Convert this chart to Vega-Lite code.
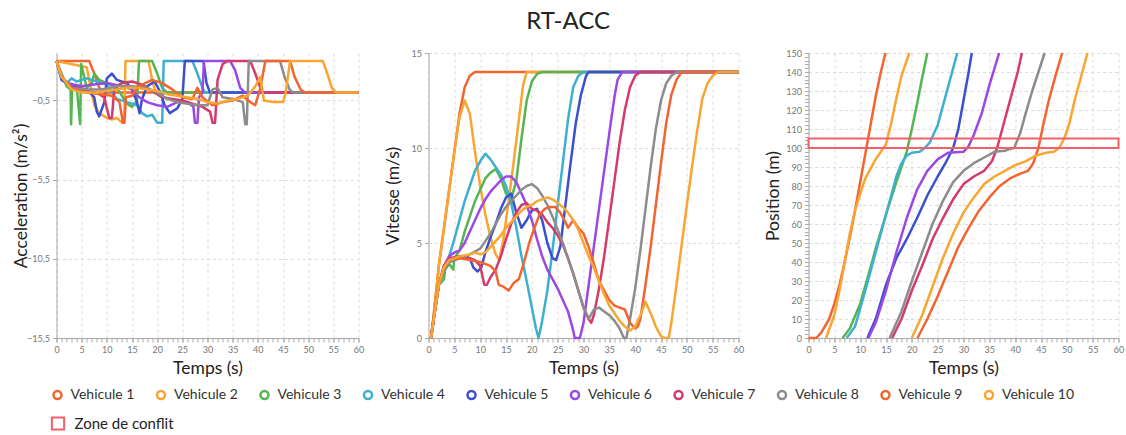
{
"$schema": "https://vega.github.io/schema/vega-lite/v6.json",
"padding": {"left": 12.5, "top": 10, "right": 4, "bottom": 0},
"title": {"text": "RT-ACC", "fontSize": 24, "font": "Lato", "fontWeight": "normal", "color": "#222", "anchor": "middle", "offset": 15},
"spacing": 70,
"bounds": "flush",
"datasets": {
"ax": [{"t": 0, "y": 0}],
"zone": [{"z": "Zone de conflit", "x1": 0, "x2": 60, "y1": 100, "y2": 105}],
"acc": [
{"v":"1","t":0,"y":2},{"v":"1","t":6.5,"y":2},{"v":"1","t":7.5,"y":1.2},{"v":"1","t":8.5,"y":0.3},{"v":"1","t":9.5,"y":0},{"v":"1","t":60,"y":0},
{"v":"2","t":0,"y":2},{"v":"2","t":6,"y":1.6},{"v":"2","t":6.8,"y":0.3},{"v":"2","t":7.5,"y":-0.8},{"v":"2","t":8.5,"y":-1.3},{"v":"2","t":10,"y":-1.6},{"v":"2","t":11,"y":-1.7},{"v":"2","t":12,"y":-1.6},{"v":"2","t":13,"y":-1.9},{"v":"2","t":13.5,"y":-1.4},{"v":"2","t":13.7,"y":2},{"v":"2","t":18.3,"y":2},{"v":"2","t":19,"y":0.8},{"v":"2","t":19.7,"y":0},{"v":"2","t":60,"y":0},
{"v":"3","t":0,"y":2},{"v":"3","t":1,"y":1.2},{"v":"3","t":2,"y":0.4},{"v":"3","t":2.8,"y":0.2},{"v":"3","t":2.9,"y":-2},{"v":"3","t":3.1,"y":0.2},{"v":"3","t":4,"y":0.4},{"v":"3","t":4.7,"y":-2},{"v":"3","t":4.9,"y":1.8},{"v":"3","t":5.5,"y":1},{"v":"3","t":6,"y":0.3},{"v":"3","t":7,"y":0.6},{"v":"3","t":7.5,"y":1.2},{"v":"3","t":8.5,"y":0.8},{"v":"3","t":10,"y":0.6},{"v":"3","t":12,"y":0.3},{"v":"3","t":13,"y":-0.2},{"v":"3","t":14,"y":-0.7},{"v":"3","t":15,"y":-0.9},{"v":"3","t":16,"y":-0.5},{"v":"3","t":16.4,"y":2},{"v":"3","t":19,"y":2},{"v":"3","t":20,"y":1.2},{"v":"3","t":21,"y":0.3},{"v":"3","t":22,"y":0},{"v":"3","t":60,"y":0},
{"v":"4","t":0,"y":2},{"v":"4","t":1,"y":1},{"v":"4","t":2,"y":0.6},{"v":"4","t":3,"y":0.9},{"v":"4","t":4,"y":0.7},{"v":"4","t":6,"y":0.9},{"v":"4","t":8,"y":0.7},{"v":"4","t":10,"y":0.5},{"v":"4","t":11,"y":0},{"v":"4","t":12,"y":-0.4},{"v":"4","t":14,"y":-0.6},{"v":"4","t":16,"y":-0.8},{"v":"4","t":17,"y":-1.3},{"v":"4","t":18,"y":-1.5},{"v":"4","t":19,"y":-1.4},{"v":"4","t":20,"y":-1.9},{"v":"4","t":21,"y":-1.9},{"v":"4","t":21.3,"y":2},{"v":"4","t":27,"y":2},{"v":"4","t":28,"y":1.2},{"v":"4","t":29,"y":0.3},{"v":"4","t":29.5,"y":0},{"v":"4","t":60,"y":0},
{"v":"5","t":0,"y":2},{"v":"5","t":1,"y":0.8},{"v":"5","t":3,"y":0.4},{"v":"5","t":6,"y":0.2},{"v":"5","t":7.5,"y":-0.3},{"v":"5","t":8,"y":-1.2},{"v":"5","t":8.5,"y":-1.5},{"v":"5","t":9.5,"y":-0.6},{"v":"5","t":10,"y":0.9},{"v":"5","t":11,"y":1.2},{"v":"5","t":12,"y":0.8},{"v":"5","t":14,"y":0.6},{"v":"5","t":15,"y":0.2},{"v":"5","t":16,"y":-0.6},{"v":"5","t":16.5,"y":-1.3},{"v":"5","t":17,"y":-0.4},{"v":"5","t":18,"y":0.4},{"v":"5","t":19.5,"y":0.7},{"v":"5","t":20.5,"y":0.1},{"v":"5","t":21.5,"y":-0.8},{"v":"5","t":22.5,"y":-1.3},{"v":"5","t":24,"y":-1},{"v":"5","t":25,"y":-0.4},{"v":"5","t":25.5,"y":2},{"v":"5","t":29.2,"y":2},{"v":"5","t":29.8,"y":0.6},{"v":"5","t":30.5,"y":0},{"v":"5","t":60,"y":0},
{"v":"6","t":0,"y":2},{"v":"6","t":1,"y":1},{"v":"6","t":2,"y":0.6},{"v":"6","t":5,"y":0.4},{"v":"6","t":7,"y":0.5},{"v":"6","t":10,"y":0.6},{"v":"6","t":13,"y":0.4},{"v":"6","t":15,"y":0.2},{"v":"6","t":16,"y":-0.2},{"v":"6","t":18,"y":-0.6},{"v":"6","t":20,"y":-0.8},{"v":"6","t":22,"y":-0.9},{"v":"6","t":24,"y":-0.6},{"v":"6","t":26,"y":-0.6},{"v":"6","t":27.2,"y":-0.9},{"v":"6","t":27.5,"y":-1.9},{"v":"6","t":28,"y":-1.9},{"v":"6","t":28.3,"y":-0.3},{"v":"6","t":29,"y":0},{"v":"6","t":29.3,"y":2},{"v":"6","t":34.5,"y":2},{"v":"6","t":35.5,"y":1.4},{"v":"6","t":36.5,"y":0.3},{"v":"6","t":37.5,"y":0},{"v":"6","t":60,"y":0},
{"v":"7","t":0,"y":2},{"v":"7","t":1,"y":1},{"v":"7","t":3,"y":0.3},{"v":"7","t":5,"y":0.1},{"v":"7","t":8,"y":0},{"v":"7","t":9.5,"y":-0.3},{"v":"7","t":10,"y":-1},{"v":"7","t":10.5,"y":-1.6},{"v":"7","t":11,"y":-1.6},{"v":"7","t":11.5,"y":0.3},{"v":"7","t":13,"y":0.6},{"v":"7","t":15,"y":0.7},{"v":"7","t":17,"y":0.5},{"v":"7","t":19,"y":0.1},{"v":"7","t":21,"y":-0.3},{"v":"7","t":23,"y":-0.4},{"v":"7","t":25,"y":-0.5},{"v":"7","t":27,"y":-0.7},{"v":"7","t":29,"y":-0.9},{"v":"7","t":30.5,"y":-1.2},{"v":"7","t":31,"y":-1.9},{"v":"7","t":31.5,"y":-1.9},{"v":"7","t":32,"y":0.8},{"v":"7","t":33,"y":1.8},{"v":"7","t":34,"y":2},{"v":"7","t":38.5,"y":2},{"v":"7","t":39.5,"y":1.2},{"v":"7","t":40.5,"y":0.3},{"v":"7","t":41,"y":0},{"v":"7","t":60,"y":0},
{"v":"8","t":0,"y":2},{"v":"8","t":1,"y":1},{"v":"8","t":3,"y":0.3},{"v":"8","t":6,"y":0.2},{"v":"8","t":9,"y":0.2},{"v":"8","t":12,"y":0.4},{"v":"8","t":15,"y":0.4},{"v":"8","t":18,"y":0.3},{"v":"8","t":20,"y":0},{"v":"8","t":22,"y":-0.4},{"v":"8","t":24,"y":-0.6},{"v":"8","t":26,"y":-0.7},{"v":"8","t":28,"y":-0.8},{"v":"8","t":30,"y":-0.8},{"v":"8","t":31,"y":0.2},{"v":"8","t":32,"y":0.3},{"v":"8","t":33,"y":-0.3},{"v":"8","t":35,"y":-0.4},{"v":"8","t":37,"y":-0.6},{"v":"8","t":37.5,"y":-2},{"v":"8","t":37.8,"y":-2},{"v":"8","t":38.2,"y":2},{"v":"8","t":44.4,"y":2},{"v":"8","t":45.3,"y":1},{"v":"8","t":46.3,"y":0.2},{"v":"8","t":47,"y":0},{"v":"8","t":60,"y":0},
{"v":"9","t":0,"y":2},{"v":"9","t":1,"y":1},{"v":"9","t":3,"y":0.3},{"v":"9","t":6,"y":0},{"v":"9","t":9,"y":-0.1},{"v":"9","t":11,"y":-0.2},{"v":"9","t":12.5,"y":-0.6},{"v":"9","t":13.2,"y":-1.9},{"v":"9","t":13.5,"y":-1.9},{"v":"9","t":13.8,"y":-0.3},{"v":"9","t":15,"y":-0.2},{"v":"9","t":16,"y":0.3},{"v":"9","t":17,"y":0.5},{"v":"9","t":19,"y":0.8},{"v":"9","t":21,"y":0.6},{"v":"9","t":23,"y":0.2},{"v":"9","t":25,"y":-0.3},{"v":"9","t":27,"y":-0.4},{"v":"9","t":28,"y":0.3},{"v":"9","t":29,"y":-0.3},{"v":"9","t":31,"y":-0.8},{"v":"9","t":33,"y":-0.6},{"v":"9","t":35,"y":-0.5},{"v":"9","t":37,"y":-0.2},{"v":"9","t":38.5,"y":-0.6},{"v":"9","t":39.5,"y":-0.8},{"v":"9","t":40.5,"y":0.3},{"v":"9","t":41.5,"y":2},{"v":"9","t":46.4,"y":2},{"v":"9","t":47.3,"y":1},{"v":"9","t":48.5,"y":0.2},{"v":"9","t":49.4,"y":0},{"v":"9","t":60,"y":0},
{"v":"10","t":0,"y":2},{"v":"10","t":1,"y":1},{"v":"10","t":3,"y":0.2},{"v":"10","t":5,"y":0},{"v":"10","t":8,"y":0},{"v":"10","t":10,"y":0.1},{"v":"10","t":12,"y":0.2},{"v":"10","t":14,"y":0.3},{"v":"10","t":16,"y":0.3},{"v":"10","t":18,"y":0.2},{"v":"10","t":20,"y":0.1},{"v":"10","t":22,"y":-0.1},{"v":"10","t":24,"y":-0.2},{"v":"10","t":26,"y":-0.3},{"v":"10","t":28,"y":-0.4},{"v":"10","t":30,"y":-0.6},{"v":"10","t":32,"y":-0.7},{"v":"10","t":34,"y":-0.5},{"v":"10","t":36,"y":-0.4},{"v":"10","t":38,"y":-0.2},{"v":"10","t":39.5,"y":0.4},{"v":"10","t":40.5,"y":1},{"v":"10","t":41.2,"y":-0.5},{"v":"10","t":43,"y":-0.6},{"v":"10","t":45,"y":-0.6},{"v":"10","t":45.5,"y":-0.1},{"v":"10","t":46.4,"y":2},{"v":"10","t":52.9,"y":2},{"v":"10","t":53.8,"y":1.2},{"v":"10","t":54.7,"y":0.3},{"v":"10","t":55.5,"y":0},{"v":"10","t":60,"y":0}
],
"vit": [
{"v":"1","t":0.5,"y":0},{"v":"1","t":1,"y":1.2},{"v":"1","t":2,"y":3.8},{"v":"1","t":3,"y":5.8},{"v":"1","t":4,"y":7.8},{"v":"1","t":5,"y":9.8},{"v":"1","t":6,"y":11.8},{"v":"1","t":7,"y":13.2},{"v":"1","t":8,"y":13.8},{"v":"1","t":9,"y":14},{"v":"1","t":60,"y":14},
{"v":"2","t":0.5,"y":0},{"v":"2","t":1,"y":1.2},{"v":"2","t":2,"y":3.8},{"v":"2","t":3,"y":5.8},{"v":"2","t":4,"y":7.8},{"v":"2","t":5,"y":9.8},{"v":"2","t":6,"y":11.6},{"v":"2","t":7,"y":12.5},{"v":"2","t":8,"y":11.8},{"v":"2","t":9,"y":9.8},{"v":"2","t":10,"y":8},{"v":"2","t":11,"y":6.5},{"v":"2","t":12,"y":5.3},{"v":"2","t":13,"y":4.4},{"v":"2","t":13.7,"y":4.1},{"v":"2","t":14.5,"y":5.2},{"v":"2","t":15.5,"y":7.2},{"v":"2","t":16.5,"y":9.3},{"v":"2","t":17.5,"y":11.5},{"v":"2","t":18.3,"y":13.3},{"v":"2","t":19,"y":14},{"v":"2","t":60,"y":14},
{"v":"3","t":0.5,"y":0},{"v":"3","t":1,"y":1},{"v":"3","t":2,"y":2.8},{"v":"3","t":3,"y":3.1},{"v":"3","t":3.2,"y":3.6},{"v":"3","t":4,"y":3.9},{"v":"3","t":4.8,"y":3.6},{"v":"3","t":5,"y":4.2},{"v":"3","t":6,"y":4.6},{"v":"3","t":7,"y":5.6},{"v":"3","t":8,"y":6.4},{"v":"3","t":9,"y":7.2},{"v":"3","t":10,"y":7.8},{"v":"3","t":11,"y":8.4},{"v":"3","t":12,"y":8.7},{"v":"3","t":13,"y":8.9},{"v":"3","t":14,"y":8.4},{"v":"3","t":15,"y":7.6},{"v":"3","t":16,"y":7.3},{"v":"3","t":17,"y":8.3},{"v":"3","t":18,"y":10.5},{"v":"3","t":19,"y":12.5},{"v":"3","t":20,"y":13.5},{"v":"3","t":21,"y":13.9},{"v":"3","t":22,"y":14},{"v":"3","t":60,"y":14},
{"v":"4","t":0.5,"y":0},{"v":"4","t":1,"y":1},{"v":"4","t":2,"y":2.8},{"v":"4","t":3,"y":3.6},{"v":"4","t":4,"y":4.3},{"v":"4","t":5,"y":5.2},{"v":"4","t":6,"y":6.2},{"v":"4","t":7,"y":7.2},{"v":"4","t":8,"y":8},{"v":"4","t":9,"y":8.8},{"v":"4","t":10,"y":9.3},{"v":"4","t":11,"y":9.7},{"v":"4","t":12,"y":9.4},{"v":"4","t":13,"y":9},{"v":"4","t":14,"y":8.6},{"v":"4","t":15,"y":8},{"v":"4","t":16,"y":7.1},{"v":"4","t":17,"y":5.8},{"v":"4","t":18,"y":4.3},{"v":"4","t":19,"y":3},{"v":"4","t":20,"y":1.6},{"v":"4","t":20.8,"y":0.5},{"v":"4","t":21.3,"y":0},{"v":"4","t":22,"y":0.9},{"v":"4","t":23,"y":2.5},{"v":"4","t":24,"y":4.6},{"v":"4","t":25,"y":7},{"v":"4","t":26,"y":9.2},{"v":"4","t":27,"y":11.5},{"v":"4","t":28,"y":13.2},{"v":"4","t":29,"y":13.8},{"v":"4","t":30,"y":14},{"v":"4","t":60,"y":14},
{"v":"5","t":0.5,"y":0},{"v":"5","t":1,"y":1},{"v":"5","t":2,"y":2.8},{"v":"5","t":3,"y":3.6},{"v":"5","t":4,"y":4},{"v":"5","t":5,"y":4.1},{"v":"5","t":6,"y":4.2},{"v":"5","t":7,"y":4.3},{"v":"5","t":8,"y":4.2},{"v":"5","t":8.7,"y":3.7},{"v":"5","t":9.5,"y":3.5},{"v":"5","t":10.2,"y":3.7},{"v":"5","t":11,"y":4.5},{"v":"5","t":12,"y":5.3},{"v":"5","t":13,"y":6},{"v":"5","t":14,"y":6.8},{"v":"5","t":15,"y":7.4},{"v":"5","t":16,"y":7.6},{"v":"5","t":17,"y":6.6},{"v":"5","t":18,"y":5.8},{"v":"5","t":19,"y":6.2},{"v":"5","t":20,"y":6.7},{"v":"5","t":21,"y":6.8},{"v":"5","t":22,"y":6.2},{"v":"5","t":23,"y":5},{"v":"5","t":24,"y":4.2},{"v":"5","t":24.7,"y":4.1},{"v":"5","t":25.5,"y":4.8},{"v":"5","t":26.5,"y":7},{"v":"5","t":27.5,"y":9.2},{"v":"5","t":28.5,"y":11.3},{"v":"5","t":29.5,"y":12.8},{"v":"5","t":30.5,"y":13.8},{"v":"5","t":31,"y":14},{"v":"5","t":60,"y":14},
{"v":"6","t":0.5,"y":0},{"v":"6","t":1,"y":1},{"v":"6","t":2,"y":2.8},{"v":"6","t":3,"y":3.8},{"v":"6","t":4,"y":4.3},{"v":"6","t":5,"y":4.5},{"v":"6","t":6,"y":4.6},{"v":"6","t":7,"y":5},{"v":"6","t":8,"y":5.6},{"v":"6","t":9,"y":6.2},{"v":"6","t":10,"y":6.8},{"v":"6","t":11,"y":7.3},{"v":"6","t":12,"y":7.7},{"v":"6","t":13,"y":8},{"v":"6","t":14,"y":8.3},{"v":"6","t":15,"y":8.5},{"v":"6","t":16,"y":8.5},{"v":"6","t":17,"y":8.2},{"v":"6","t":18,"y":7.6},{"v":"6","t":19,"y":7},{"v":"6","t":20,"y":6.2},{"v":"6","t":21,"y":5.2},{"v":"6","t":22,"y":4.3},{"v":"6","t":23,"y":3.6},{"v":"6","t":24,"y":3.1},{"v":"6","t":25,"y":2.6},{"v":"6","t":26,"y":2},{"v":"6","t":27,"y":1.4},{"v":"6","t":28,"y":0.4},{"v":"6","t":28.3,"y":0},{"v":"6","t":29.3,"y":0},{"v":"6","t":30,"y":0.8},{"v":"6","t":31,"y":2.8},{"v":"6","t":32,"y":4.8},{"v":"6","t":33,"y":6.8},{"v":"6","t":34,"y":8.8},{"v":"6","t":35,"y":10.8},{"v":"6","t":36,"y":12.7},{"v":"6","t":36.6,"y":13.6},{"v":"6","t":37.5,"y":14},{"v":"6","t":60,"y":14},
{"v":"7","t":0.5,"y":0},{"v":"7","t":1,"y":1},{"v":"7","t":2,"y":2.8},{"v":"7","t":3,"y":3.8},{"v":"7","t":4,"y":4.2},{"v":"7","t":6,"y":4.3},{"v":"7","t":8,"y":4.2},{"v":"7","t":9,"y":4.1},{"v":"7","t":10,"y":3.8},{"v":"7","t":10.8,"y":2.8},{"v":"7","t":11.3,"y":2.8},{"v":"7","t":12,"y":3.2},{"v":"7","t":13,"y":3.6},{"v":"7","t":14,"y":4.3},{"v":"7","t":15,"y":5.2},{"v":"7","t":16,"y":6},{"v":"7","t":17,"y":6.6},{"v":"7","t":18,"y":7},{"v":"7","t":19,"y":7.1},{"v":"7","t":20,"y":6.8},{"v":"7","t":21,"y":6.7},{"v":"7","t":22,"y":6.5},{"v":"7","t":23,"y":6.1},{"v":"7","t":24,"y":5.8},{"v":"7","t":25,"y":5.4},{"v":"7","t":26,"y":4.9},{"v":"7","t":27,"y":4.2},{"v":"7","t":28,"y":3.4},{"v":"7","t":29,"y":2.5},{"v":"7","t":30,"y":1.6},{"v":"7","t":31,"y":1},{"v":"7","t":31.5,"y":0.8},{"v":"7","t":32,"y":1.2},{"v":"7","t":33,"y":2.6},{"v":"7","t":34,"y":4.3},{"v":"7","t":35,"y":6.3},{"v":"7","t":36,"y":8.3},{"v":"7","t":37,"y":10.3},{"v":"7","t":38,"y":12},{"v":"7","t":39,"y":13.2},{"v":"7","t":40,"y":13.8},{"v":"7","t":41,"y":14},{"v":"7","t":60,"y":14},
{"v":"8","t":0.5,"y":0},{"v":"8","t":1,"y":1},{"v":"8","t":2,"y":2.8},{"v":"8","t":3,"y":3.6},{"v":"8","t":4,"y":4},{"v":"8","t":6,"y":4.2},{"v":"8","t":8,"y":4.4},{"v":"8","t":10,"y":4.7},{"v":"8","t":11,"y":5.1},{"v":"8","t":12,"y":5.5},{"v":"8","t":13,"y":6},{"v":"8","t":14,"y":6.5},{"v":"8","t":15,"y":6.9},{"v":"8","t":16,"y":7.2},{"v":"8","t":17,"y":7.5},{"v":"8","t":18,"y":7.8},{"v":"8","t":19,"y":8},{"v":"8","t":20,"y":8.1},{"v":"8","t":21,"y":7.9},{"v":"8","t":22,"y":7.5},{"v":"8","t":23,"y":7},{"v":"8","t":24,"y":6.4},{"v":"8","t":25,"y":5.7},{"v":"8","t":26,"y":5},{"v":"8","t":27,"y":4.2},{"v":"8","t":28,"y":3.4},{"v":"8","t":29,"y":2.5},{"v":"8","t":30,"y":1.6},{"v":"8","t":31,"y":1},{"v":"8","t":32,"y":1.5},{"v":"8","t":33,"y":1.6},{"v":"8","t":34,"y":1.4},{"v":"8","t":35,"y":1.2},{"v":"8","t":36,"y":0.9},{"v":"8","t":37,"y":0.5},{"v":"8","t":37.8,"y":0},{"v":"8","t":38.3,"y":0},{"v":"8","t":39,"y":1},{"v":"8","t":40,"y":2.6},{"v":"8","t":41,"y":4.6},{"v":"8","t":42,"y":6.8},{"v":"8","t":43,"y":9},{"v":"8","t":44,"y":11},{"v":"8","t":45,"y":12.5},{"v":"8","t":46,"y":13.4},{"v":"8","t":47,"y":13.8},{"v":"8","t":48,"y":14},{"v":"8","t":60,"y":14},
{"v":"9","t":0.5,"y":0},{"v":"9","t":1,"y":1},{"v":"9","t":2,"y":2.8},{"v":"9","t":3,"y":3.8},{"v":"9","t":4,"y":4.1},{"v":"9","t":6,"y":4.2},{"v":"9","t":8,"y":4.1},{"v":"9","t":10,"y":4},{"v":"9","t":12,"y":3.8},{"v":"9","t":13,"y":3.5},{"v":"9","t":13.6,"y":2.8},{"v":"9","t":14.5,"y":2.7},{"v":"9","t":15.5,"y":2.5},{"v":"9","t":16.5,"y":2.9},{"v":"9","t":17.5,"y":3.1},{"v":"9","t":18.5,"y":4},{"v":"9","t":19.5,"y":5},{"v":"9","t":20.5,"y":5.8},{"v":"9","t":21.5,"y":6.5},{"v":"9","t":22.5,"y":6.8},{"v":"9","t":23.5,"y":6.9},{"v":"9","t":24.5,"y":6.9},{"v":"9","t":25.5,"y":6.6},{"v":"9","t":26.5,"y":6.1},{"v":"9","t":27,"y":5.8},{"v":"9","t":28,"y":6.2},{"v":"9","t":29,"y":5.8},{"v":"9","t":30,"y":5.5},{"v":"9","t":31,"y":4.8},{"v":"9","t":32,"y":3.9},{"v":"9","t":33,"y":3},{"v":"9","t":34,"y":2.5},{"v":"9","t":35,"y":2},{"v":"9","t":36,"y":1.7},{"v":"9","t":37,"y":1.6},{"v":"9","t":38,"y":1.5},{"v":"9","t":39,"y":0.8},{"v":"9","t":40,"y":0.5},{"v":"9","t":40.5,"y":0.6},{"v":"9","t":41,"y":1},{"v":"9","t":42,"y":2.8},{"v":"9","t":43,"y":4.8},{"v":"9","t":44,"y":7},{"v":"9","t":45,"y":9.2},{"v":"9","t":46,"y":11.3},{"v":"9","t":47,"y":12.8},{"v":"9","t":48,"y":13.6},{"v":"9","t":49,"y":14},{"v":"9","t":60,"y":14},
{"v":"10","t":0.5,"y":0},{"v":"10","t":1,"y":1},{"v":"10","t":2,"y":2.8},{"v":"10","t":3,"y":3.7},{"v":"10","t":4,"y":4.1},{"v":"10","t":6,"y":4.3},{"v":"10","t":8,"y":4.4},{"v":"10","t":9,"y":4.5},{"v":"10","t":10,"y":4.4},{"v":"10","t":11,"y":4.5},{"v":"10","t":12,"y":4.8},{"v":"10","t":13,"y":5.1},{"v":"10","t":14,"y":5.4},{"v":"10","t":15,"y":5.8},{"v":"10","t":16,"y":6.1},{"v":"10","t":17,"y":6.4},{"v":"10","t":18,"y":6.7},{"v":"10","t":19,"y":6.9},{"v":"10","t":20,"y":7},{"v":"10","t":21,"y":7.2},{"v":"10","t":22,"y":7.3},{"v":"10","t":23,"y":7.4},{"v":"10","t":24,"y":7.3},{"v":"10","t":25,"y":7.1},{"v":"10","t":26,"y":6.9},{"v":"10","t":27,"y":6.6},{"v":"10","t":28,"y":6.2},{"v":"10","t":29,"y":5.7},{"v":"10","t":30,"y":5},{"v":"10","t":31,"y":4.3},{"v":"10","t":32,"y":3.7},{"v":"10","t":33,"y":3},{"v":"10","t":34,"y":2.3},{"v":"10","t":35,"y":1.7},{"v":"10","t":36,"y":1.3},{"v":"10","t":37,"y":0.9},{"v":"10","t":38,"y":0.6},{"v":"10","t":39,"y":0.4},{"v":"10","t":40,"y":0.6},{"v":"10","t":41,"y":1.2},{"v":"10","t":42,"y":1.9},{"v":"10","t":43,"y":1.3},{"v":"10","t":44,"y":0.6},{"v":"10","t":45,"y":0.1},{"v":"10","t":45.5,"y":0},{"v":"10","t":46.5,"y":0},{"v":"10","t":47,"y":0.8},{"v":"10","t":48,"y":2.8},{"v":"10","t":49,"y":4.9},{"v":"10","t":50,"y":7},{"v":"10","t":51,"y":9},{"v":"10","t":52,"y":10.9},{"v":"10","t":53,"y":12.6},{"v":"10","t":54,"y":13.4},{"v":"10","t":55,"y":13.8},{"v":"10","t":56,"y":14},{"v":"10","t":60,"y":14}
],
"pos": [
{"v":"1","t":0,"y":0},{"v":"1","t":1.5,"y":0},{"v":"1","t":2.5,"y":3},{"v":"1","t":4,"y":10},{"v":"1","t":5,"y":18},{"v":"1","t":6,"y":28},{"v":"1","t":7,"y":40},{"v":"1","t":8,"y":53},{"v":"1","t":9,"y":67},{"v":"1","t":10,"y":82},{"v":"1","t":11,"y":97},{"v":"1","t":12,"y":112},{"v":"1","t":13,"y":127},{"v":"1","t":14,"y":140},{"v":"1","t":14.9,"y":150},
{"v":"2","t":3.4,"y":0},{"v":"2","t":5,"y":12},{"v":"2","t":6,"y":25},{"v":"2","t":7,"y":40},{"v":"2","t":8,"y":55},{"v":"2","t":9,"y":67},{"v":"2","t":10,"y":76},{"v":"2","t":11,"y":84},{"v":"2","t":12,"y":89},{"v":"2","t":13,"y":94},{"v":"2","t":14,"y":98},{"v":"2","t":15,"y":102},{"v":"2","t":16,"y":113},{"v":"2","t":17,"y":126},{"v":"2","t":18,"y":138},{"v":"2","t":19.5,"y":150},
{"v":"3","t":6.6,"y":0},{"v":"3","t":8,"y":5},{"v":"3","t":10,"y":18},{"v":"3","t":12,"y":37},{"v":"3","t":13,"y":47},{"v":"3","t":15,"y":65},{"v":"3","t":17,"y":82},{"v":"3","t":19,"y":98},{"v":"3","t":20,"y":110},{"v":"3","t":21,"y":123},{"v":"3","t":22,"y":137},{"v":"3","t":23,"y":150},
{"v":"4","t":7.4,"y":0},{"v":"4","t":9,"y":6},{"v":"4","t":11,"y":25},{"v":"4","t":13,"y":45},{"v":"4","t":15,"y":65},{"v":"4","t":17,"y":85},{"v":"4","t":18,"y":92},{"v":"4","t":19,"y":96},{"v":"4","t":20,"y":97.5},{"v":"4","t":21.5,"y":98},{"v":"4","t":22.5,"y":100},{"v":"4","t":23.5,"y":103},{"v":"4","t":25,"y":112},{"v":"4","t":26.5,"y":127},{"v":"4","t":28,"y":142},{"v":"4","t":28.8,"y":150},
{"v":"5","t":11.4,"y":0},{"v":"5","t":13,"y":10},{"v":"5","t":15,"y":28},{"v":"5","t":17,"y":42},{"v":"5","t":19,"y":52},{"v":"5","t":21,"y":63},{"v":"5","t":23,"y":75},{"v":"5","t":25,"y":85},{"v":"5","t":26.5,"y":92},{"v":"5","t":28,"y":100},{"v":"5","t":29,"y":110},{"v":"5","t":30,"y":125},{"v":"5","t":31,"y":140},{"v":"5","t":31.6,"y":150},
{"v":"6","t":11.6,"y":0},{"v":"6","t":13,"y":8},{"v":"6","t":15,"y":25},{"v":"6","t":17,"y":45},{"v":"6","t":19,"y":63},{"v":"6","t":21,"y":78},{"v":"6","t":23,"y":88},{"v":"6","t":25,"y":94},{"v":"6","t":27,"y":97.5},{"v":"6","t":30,"y":98},{"v":"6","t":31,"y":101},{"v":"6","t":32,"y":107},{"v":"6","t":33.5,"y":118},{"v":"6","t":35,"y":133},{"v":"6","t":36.9,"y":150},
{"v":"7","t":16.2,"y":0},{"v":"7","t":18,"y":10},{"v":"7","t":20,"y":25},{"v":"7","t":22,"y":38},{"v":"7","t":24,"y":52},{"v":"7","t":26,"y":63},{"v":"7","t":28,"y":73},{"v":"7","t":30,"y":81},{"v":"7","t":32,"y":85},{"v":"7","t":34,"y":88},{"v":"7","t":35.5,"y":93},{"v":"7","t":36.5,"y":100},{"v":"7","t":37.5,"y":110},{"v":"7","t":39,"y":125},{"v":"7","t":40.5,"y":140},{"v":"7","t":41.3,"y":150},
{"v":"8","t":15.7,"y":0},{"v":"8","t":18,"y":14},{"v":"8","t":20,"y":30},{"v":"8","t":22,"y":45},{"v":"8","t":24,"y":60},{"v":"8","t":26,"y":72},{"v":"8","t":28,"y":82},{"v":"8","t":30,"y":88},{"v":"8","t":32,"y":92},{"v":"8","t":34,"y":95},{"v":"8","t":36,"y":98},{"v":"8","t":38,"y":98.5},{"v":"8","t":39,"y":99.5},{"v":"8","t":39.8,"y":100},{"v":"8","t":41,"y":108},{"v":"8","t":42,"y":118},{"v":"8","t":43.3,"y":130},{"v":"8","t":44.5,"y":140},{"v":"8","t":45.7,"y":150},
{"v":"9","t":21.1,"y":0},{"v":"9","t":23,"y":10},{"v":"9","t":25,"y":22},{"v":"9","t":27,"y":35},{"v":"9","t":29,"y":48},{"v":"9","t":31,"y":58},{"v":"9","t":33,"y":67},{"v":"9","t":35,"y":74},{"v":"9","t":37,"y":80},{"v":"9","t":39,"y":84},{"v":"9","t":41,"y":86.5},{"v":"9","t":42.5,"y":88},{"v":"9","t":43.5,"y":92},{"v":"9","t":44.5,"y":100},{"v":"9","t":45.5,"y":113},{"v":"9","t":46.5,"y":125},{"v":"9","t":47.8,"y":138},{"v":"9","t":49.1,"y":150},
{"v":"10","t":20,"y":0},{"v":"10","t":22,"y":12},{"v":"10","t":24,"y":27},{"v":"10","t":26,"y":42},{"v":"10","t":28,"y":55},{"v":"10","t":30,"y":66},{"v":"10","t":32,"y":74},{"v":"10","t":34,"y":81},{"v":"10","t":36,"y":85},{"v":"10","t":38,"y":88},{"v":"10","t":40,"y":91},{"v":"10","t":42,"y":93},{"v":"10","t":44,"y":96},{"v":"10","t":46,"y":97.5},{"v":"10","t":47.5,"y":98},{"v":"10","t":48.5,"y":100},{"v":"10","t":49.5,"y":105},{"v":"10","t":50.5,"y":113},{"v":"10","t":51.5,"y":125},{"v":"10","t":53,"y":140},{"v":"10","t":54,"y":150}
]
},
"hconcat": [
{
"width": 302, "height": 285,
"resolve": {"axis": {"x": "independent", "y": "independent"}},
"layer": [
{
"data": {"name": "acc"},
"mark": {"type": "line", "strokeWidth": 2.5, "strokeJoin": "round"},
"encoding": {
"x": {"field": "t", "type": "quantitative", "scale": {"domain": [0, 60], "nice": false}, "axis": {"title": "Temps (s)", "values": [0,5,10,15,20,25,30,35,40,45,50,55,60], "grid": true, "labelFlush": false, "orient": "bottom"}},
"y": {"field": "y", "type": "quantitative", "scale": {"domain": [-15.5, 2.5], "nice": false, "zero": false}, "axis": {"title": "Acceleration (m/s²)", "values": [-15.5, -10.5, -5.5, -0.5], "labelExpr": "replace(format(datum.value, '.1f'), '.', ',')", "grid": true, "minExtent": 26, "maxExtent": 26, "titlePadding": 0}},
"color": {"field": "v", "type": "nominal", "scale": {"domain": ["1","2","3","4","5","6","7","8","9","10"], "range": ["#F26430","#F8A532","#55B550","#3FAFD0","#3C4FCF","#9C48E2","#D43A6A","#8C8C8C","#F26430","#F8A532"]}, "legend": {"orient": "none", "legendX": -6, "legendY": 335, "direction": "horizontal", "columns": 10, "title": null, "symbolType": "circle", "symbolSize": 64, "symbolStrokeWidth": 2.5, "symbolFillColor": "white", "labelFontSize": 14, "labelFont": "Lato", "labelColor": "#333", "labelExpr": "'Vehicule ' + datum.label", "gridAlign": "all", "columnPadding": 8.5, "labelOffset": 6, "padding": 0}}
}
},
{
"data": {"name": "ax"},
"mark": {"type": "point", "opacity": 0},
"encoding": {
"x": {"field": "t", "type": "quantitative", "scale": {"domain": [0, 60], "nice": false}, "axis": {"orient": "bottom", "title": null, "labels": false, "domain": false, "grid": false, "tickCount": 60, "tickSize": 4}},
"y": {"field": "y", "type": "quantitative", "scale": {"domain": [-15.5, 2.5], "nice": false, "zero": false}, "axis": null}
}
}
]
},
{
"width": 310, "height": 285,
"resolve": {"axis": {"x": "independent", "y": "independent"}},
"layer": [
{
"data": {"name": "vit"},
"mark": {"type": "line", "strokeWidth": 2.5, "strokeJoin": "round"},
"encoding": {
"x": {"field": "t", "type": "quantitative", "scale": {"domain": [0, 60], "nice": false}, "axis": {"title": "Temps (s)", "values": [0,5,10,15,20,25,30,35,40,45,50,55,60], "grid": true, "labelFlush": false, "orient": "bottom"}},
"y": {"field": "y", "type": "quantitative", "scale": {"domain": [0, 15], "nice": false}, "axis": {"title": "Vitesse  (m/s)", "values": [0, 5, 10, 15], "grid": true, "minExtent": 26, "maxExtent": 26, "titlePadding": 0}},
"color": {"field": "v", "type": "nominal", "scale": {"domain": ["1","2","3","4","5","6","7","8","9","10"], "range": ["#F26430","#F8A532","#55B550","#3FAFD0","#3C4FCF","#9C48E2","#D43A6A","#8C8C8C","#F26430","#F8A532"]}, "legend": {"orient": "none", "legendX": -6, "legendY": 335, "direction": "horizontal", "columns": 10, "title": null, "symbolType": "circle", "symbolSize": 64, "symbolStrokeWidth": 2.5, "symbolFillColor": "white", "labelFontSize": 14, "labelFont": "Lato", "labelColor": "#333", "labelExpr": "'Vehicule ' + datum.label", "gridAlign": "all", "columnPadding": 8.5, "labelOffset": 6, "padding": 0}}
}
},
{
"data": {"name": "ax"},
"mark": {"type": "point", "opacity": 0},
"encoding": {
"x": {"field": "t", "type": "quantitative", "scale": {"domain": [0, 60], "nice": false}, "axis": {"orient": "bottom", "title": null, "labels": false, "domain": false, "grid": false, "tickCount": 60, "tickSize": 4}},
"y": {"field": "y", "type": "quantitative", "scale": {"domain": [0, 15], "nice": false}, "axis": null}
}
}
]
},
{
"width": 310, "height": 285,
"resolve": {"axis": {"x": "independent", "y": "independent"}},
"layer": [
{
"data": {"name": "pos"},
"mark": {"type": "line", "strokeWidth": 2.5, "strokeJoin": "round"},
"encoding": {
"x": {"field": "t", "type": "quantitative", "scale": {"domain": [0, 60], "nice": false}, "axis": {"title": "Temps (s)", "values": [0,5,10,15,20,25,30,35,40,45,50,55,60], "grid": true, "labelFlush": false, "orient": "bottom"}},
"y": {"field": "y", "type": "quantitative", "scale": {"domain": [0, 150], "nice": false}, "axis": {"title": "Position (m)", "values": [0,10,20,30,40,50,60,70,80,90,100,110,120,130,140,150], "grid": true, "minExtent": 26, "maxExtent": 26, "titlePadding": 0, "orient": "left"}},
"color": {"field": "v", "type": "nominal", "scale": {"domain": ["1","2","3","4","5","6","7","8","9","10"], "range": ["#F26430","#F8A532","#55B550","#3FAFD0","#3C4FCF","#9C48E2","#D43A6A","#8C8C8C","#F26430","#F8A532"]}, "legend": {"orient": "none", "legendX": -6, "legendY": 335, "direction": "horizontal", "columns": 10, "title": null, "symbolType": "circle", "symbolSize": 64, "symbolStrokeWidth": 2.5, "symbolFillColor": "white", "labelFontSize": 14, "labelFont": "Lato", "labelColor": "#333", "labelExpr": "'Vehicule ' + datum.label", "gridAlign": "all", "columnPadding": 8.5, "labelOffset": 6, "padding": 0}}
}
},
{
"data": {"name": "ax"},
"mark": {"type": "point", "opacity": 0},
"encoding": {
"x": {"field": "t", "type": "quantitative", "scale": {"domain": [0, 60], "nice": false}, "axis": {"orient": "bottom", "title": null, "labels": false, "domain": false, "grid": false, "tickCount": 60, "tickSize": 4}},
"y": {"field": "y", "type": "quantitative", "scale": {"domain": [0, 150], "nice": false}, "axis": {"orient": "left", "title": null, "labels": false, "domain": false, "grid": false, "tickCount": 75, "tickSize": 4}}
}
},
{
"data": {"name": "zone"},
"mark": {"type": "rect", "fill": "transparent", "strokeWidth": 2},
"encoding": {
"x": {"field": "x1", "type": "quantitative", "axis": null},
"x2": {"field": "x2"},
"y": {"field": "y1", "type": "quantitative", "axis": null},
"y2": {"field": "y2"},
"stroke": {"field": "z", "type": "nominal", "scale": {"range": ["#F2606C"]}, "legend": {"orient": "none", "legendX": -6, "legendY": 363, "title": null, "symbolType": "square", "symbolSize": 150, "symbolStrokeWidth": 2, "symbolFillColor": "transparent", "labelFontSize": 15, "labelFont": "Lato", "labelColor": "#222", "labelOffset": 9, "padding": 0}}
}
}
]
}
],
"config": {
"view": {"stroke": null},
"font": "Lato",
"axis": {"labelFont": "Lato", "labelFontSize": 9, "labelColor": "#777", "titleFont": "Lato", "titleFontSize": 17.5, "titleFontWeight": "normal", "titleColor": "#222", "domainColor": "#aaa", "tickColor": "#aaa", "tickSize": 4, "gridColor": "#dcdcdc", "gridDash": [3, 3], "labelPadding": 3, "titlePadding": 5}
}
}
